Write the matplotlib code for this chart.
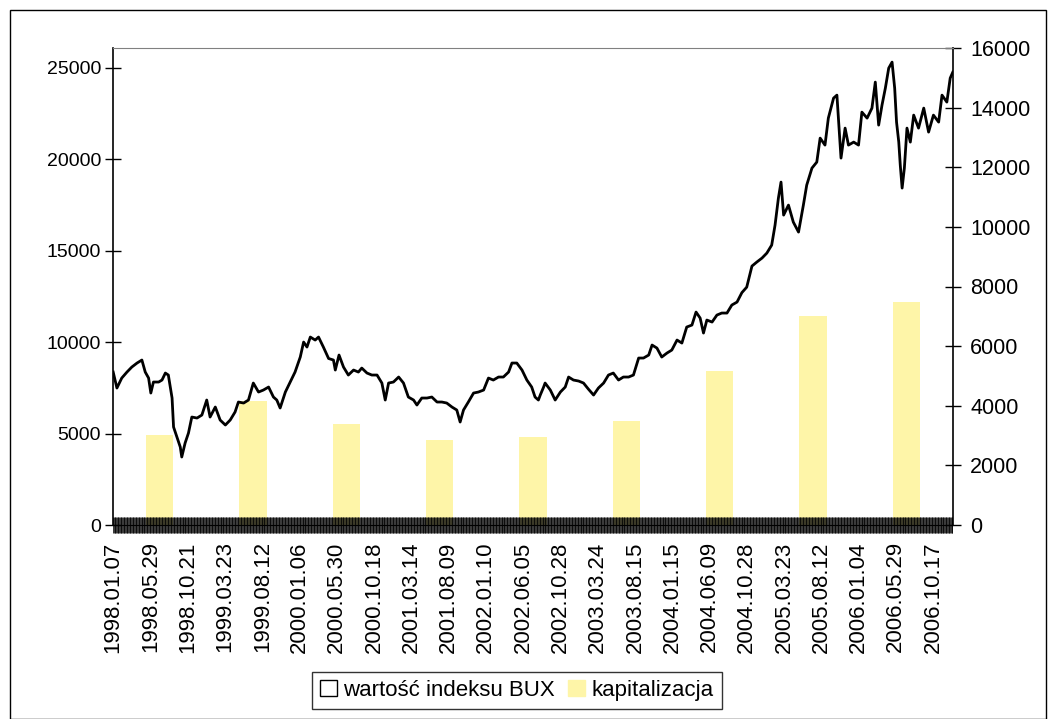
import numpy as np
import matplotlib
matplotlib.use("Agg")
import matplotlib.pyplot as plt
from matplotlib.patches import Patch, Rectangle

plt.rcParams['font.family'] = ['Liberation Sans', 'DejaVu Sans']

# trading-day number (0 = 1998.01.07) and BUX index value
n_days = 2254
day = [0, 10, 23, 37, 50, 64, 77, 86, 95, 101, 108, 122, 131, 140, 148, 158, 162,
       171, 180, 184, 193, 202, 211, 225, 238, 251, 260, 274, 287, 301, 314, 327,
       336, 350, 363, 376, 390, 403, 417, 430, 439, 448, 462, 475, 488, 502, 511,
       520, 529, 542, 551, 564, 578, 591, 596, 606, 618, 631, 645, 658, 667, 681,
       694, 708, 721, 730, 739, 752, 766, 779, 792, 806, 815, 828, 842, 855, 869,
       882, 895, 909, 922, 931, 940, 953, 967, 980, 994, 1007, 1020, 1034, 1047,
       1061, 1070, 1083, 1097, 1110, 1123, 1132, 1141, 1146, 1155, 1159, 1173, 1186,
       1200, 1213, 1222, 1235, 1249, 1262, 1275, 1289, 1302, 1316, 1329, 1342, 1356,
       1369, 1383, 1396, 1410, 1423, 1437, 1446, 1459, 1472, 1486, 1499, 1513, 1526,
       1539, 1553, 1564, 1575, 1584, 1593, 1607, 1620, 1633, 1647, 1660, 1674, 1687,
       1700, 1714, 1727, 1741, 1754, 1767, 1776, 1785, 1792, 1799, 1812, 1825, 1839,
       1852, 1861, 1875, 1888, 1897, 1910, 1919, 1933, 1942, 1946, 1953, 1964, 1973,
       1987, 2000, 2009, 2023, 2036, 2045, 2054, 2063, 2072, 2081, 2090, 2097, 2102,
       2108, 2112, 2117, 2123, 2130, 2139, 2148, 2161, 2175, 2188, 2201, 2215, 2224,
       2237, 2246, 2253]
bux = [8360, 7486, 8032, 8360, 8633, 8852, 9016, 8360, 8032, 7212, 7814, 7814, 7923,
       8305, 8196, 6939, 5355, 4808, 4262, 3716, 4481, 5027, 5901, 5846, 6010, 6830,
       5901, 6448, 5737, 5464, 5737, 6174, 6721, 6666, 6830, 7759, 7267, 7376, 7540,
       6994, 6830, 6393, 7267, 7814, 8360, 9180, 9999, 9726, 10272, 10108, 10272,
       9726, 9100, 9016, 8469, 9289, 8633, 8196, 8469, 8360, 8578, 8305, 8196, 8196,
       7759, 6830, 7759, 7814, 8087, 7759, 6994, 6830, 6557, 6939, 6939, 6994, 6721,
       6721, 6666, 6448, 6284, 5628, 6284, 6721, 7212, 7267, 7376, 8032, 7923, 8087,
       8087, 8360, 8852, 8852, 8469, 7923, 7540, 6994, 6830, 7103, 7540, 7759, 7376,
       6830, 7267, 7540, 8087, 7923, 7868, 7759, 7431, 7103, 7486, 7759, 8196, 8305,
       7923, 8087, 8087, 8196, 9125, 9125, 9289, 9835, 9671, 9180, 9398, 9562, 10108,
       9944, 10819, 10928, 11638, 11310, 10491, 11201, 11092, 11474, 11584, 11584,
       12021, 12185, 12700, 13000, 14150, 14370, 14589, 14862, 15299, 16392, 17867,
       18742, 16938, 17485, 16556, 16010, 17485, 18578, 19506, 19834, 21146, 20763,
       22238, 23331, 23495, 22238, 20053, 21692, 20763, 20927, 20763, 22566, 22238,
       22785, 24206, 21856, 22949, 23878, 24970, 25298, 23878, 22020, 20927, 19670,
       18414, 19506, 21692, 20927, 22402, 21692, 22785, 21474, 22402, 22020, 23495,
       23113, 24424, 24752]

# market capitalisation, one bar per year
years = ['1998', '1999', '2000', '2001', '2002', '2003', '2004', '2005', '2006']
kapitalizacja = [3020, 4160, 3390, 2850, 2950, 3490, 5170, 7010, 7480]

date_labels = ['1998.01.07', '1998.05.29', '1998.10.21', '1999.03.23', '1999.08.12',
               '2000.01.06', '2000.05.30', '2000.10.18', '2001.03.14', '2001.08.09',
               '2002.01.10', '2002.06.05', '2002.10.28', '2003.03.24', '2003.08.15',
               '2004.01.15', '2004.06.09', '2004.10.28', '2005.03.23', '2005.08.12',
               '2006.01.04', '2006.05.29', '2006.10.17']

bar_color = '#FEF5A8'

fig = plt.figure(figsize=(10.57, 7.19), dpi=100)
pos = [113 / 1057, 1 - 525 / 719, 840 / 1057, 477 / 719]

# bars on their own category axis, value axis on the right
axb = fig.add_axes(pos)
axb.bar(range(len(years)), kapitalizacja, width=0.29, color=bar_color, zorder=1)
axb.set_xlim(-0.5, len(years) - 0.5)
axb.set_ylim(0, 16000)
axb.set_yticks(np.arange(0, 16001, 2000))
axb.yaxis.tick_right()
axb.tick_params(axis='y', direction='inout', length=11, width=1, pad=7, labelsize=15.5)
axb.set_xticks([])
for s in ['left', 'top', 'bottom']:
    axb.spines[s].set_visible(False)
axb.spines['right'].set_linewidth(1.2)

# BUX line on daily category axis, value axis on the left
ax = fig.add_axes(pos)
ax.patch.set_visible(False)
ax.plot(day, bux, color='black', lw=2, zorder=3)
ax.set_xlim(-0.5, n_days - 0.5)
ax.set_ylim(0, 26070)
ax.set_yticks(np.arange(0, 25001, 5000))
ax.tick_params(axis='y', direction='inout', length=11, width=1, pad=3, labelsize=14)
ax.set_xticks(np.arange(0, n_days, 100))
ax.set_xticklabels(date_labels, rotation=90, fontsize=16)
ax.set_xticks(np.arange(0, n_days, 2), minor=True)
ax.tick_params(axis='x', which='both', direction='inout', length=11.5, width=0.55,
               color='black', pad=6)
ax.spines['right'].set_visible(False)
ax.spines['top'].set_color('#808080')
ax.spines['left'].set_linewidth(1.2)

handles = [Patch(facecolor='white', edgecolor='black', lw=1),
           Patch(facecolor=bar_color, edgecolor=bar_color)]
leg = fig.legend(handles, ['wartość indeksu BUX', 'kapitalizacja'], ncol=2,
                 loc='center', bbox_to_anchor=(517 / 1057, 1 - 690.5 / 719),
                 fontsize=16, frameon=True, fancybox=False, handlelength=0.75,
                 handleheight=0.75, handletextpad=0.3, columnspacing=0.6,
                 borderpad=0.35, borderaxespad=0)
leg.get_frame().set_edgecolor('black')
leg.get_frame().set_linewidth(1)

# chart area border
fig.patches.append(Rectangle((10 / 1057, 0), 1036 / 1057, 1 - 10 / 719,
                             transform=fig.transFigure, fill=False,
                             edgecolor='black', lw=1))

fig.savefig('out.png', dpi=100)
